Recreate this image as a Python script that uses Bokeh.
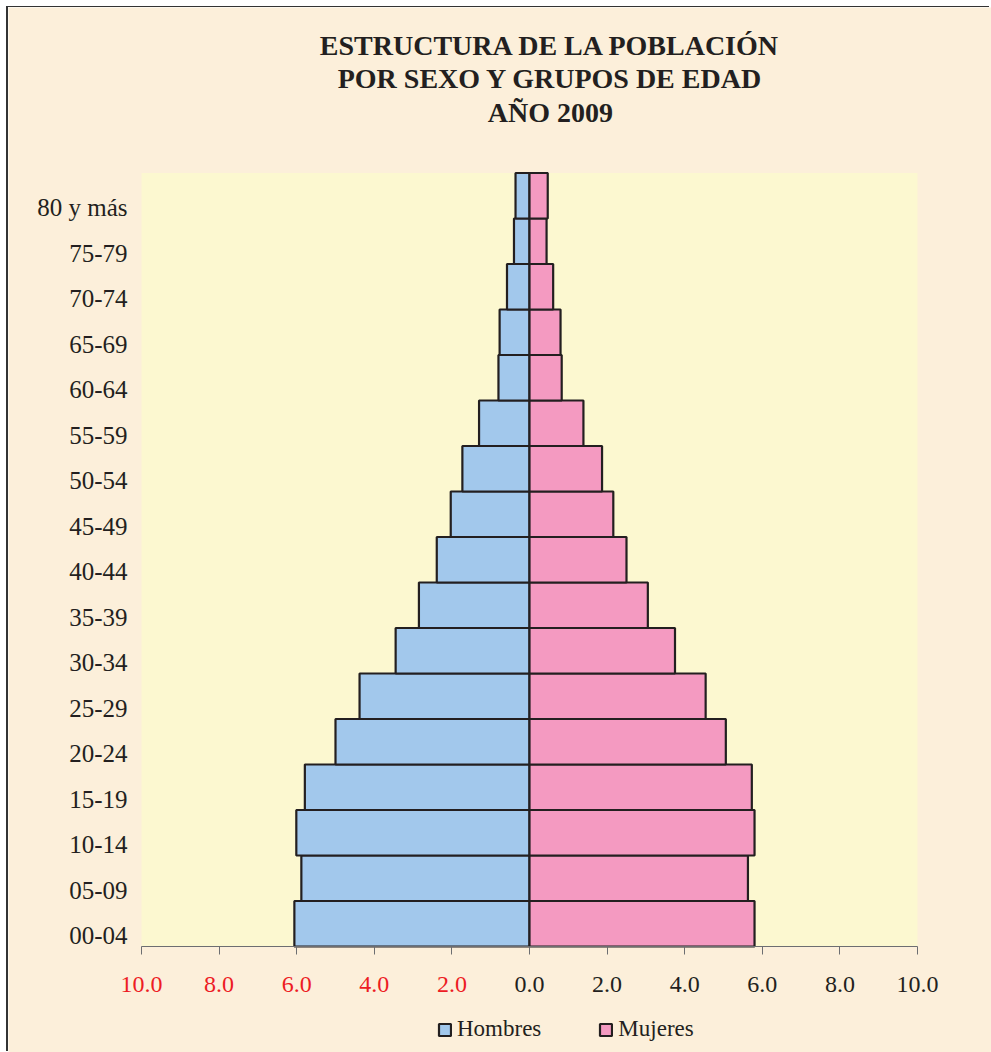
from bokeh.plotting import figure
from bokeh.models import (Range1d, FixedTicker, LinearAxis, ColumnDataSource,
                          Legend, LegendItem)
from bokeh.core.properties import value
from bokeh.embed import file_html
from bokeh.resources import INLINE

# ---- data ----
grupos = ["00-04", "05-09", "10-14", "15-19", "20-24", "25-29", "30-34", "35-39",
          "40-44", "45-49", "50-54", "55-59", "60-64", "65-69", "70-74", "75-79",
          "80 y más"]
hombres = [6.06, 5.88, 6.01, 5.79, 5.00, 4.38, 3.45, 2.85, 2.39, 2.03, 1.73, 1.30,
           0.80, 0.77, 0.58, 0.40, 0.36]
mujeres = [5.80, 5.63, 5.80, 5.73, 5.06, 4.54, 3.75, 3.05, 2.50, 2.16, 1.87, 1.39,
           0.83, 0.80, 0.61, 0.44, 0.47]
ticks_izq = [-10, -8, -6, -4, -2]
labels_izq = ["10.0", "8.0", "6.0", "4.0", "2.0"]
ticks_der = [0, 2, 4, 6, 8, 10]
labels_der = ["0.0", "2.0", "4.0", "6.0", "8.0", "10.0"]
titulo = ["ESTRUCTURA DE LA POBLACIÓN", "POR SEXO Y GRUPOS DE EDAD", "AÑO 2009"]

SERIF = "Liberation Serif"
BG = "#FCEFDA"
INK = "#231F20"

W, H = 983, 1045
PX_X, ZERO_X = 38.8, 521          # px per unit, canvas x of 0
PX_Y, ZERO_Y = 45.5, 939          # px per group, canvas y (from top) of bottom
xr = Range1d(-ZERO_X / PX_X, (W - ZERO_X) / PX_X)
yr = Range1d(-(H - ZERO_Y) / PX_Y, ZERO_Y / PX_Y)

p = figure(width=W, height=H, x_range=xr, y_range=yr, output_backend="svg",
           toolbar_location=None, x_axis_location=None, y_axis_location=None,
           min_border=0,
           styles={"margin-left": "8px", "margin-top": "7px",
                   "box-shadow": "-2px -1px 0px 0px #333333"})
p.background_fill_color = BG
p.border_fill_color = BG
p.outline_line_color = None
p.grid.visible = False

n = len(grupos)
ypos = [i + 0.5 for i in range(n)]

# plot-area background
p.quad(left=[ticks_izq[0]], right=[ticks_der[-1]], bottom=[0], top=[n],
       fill_color="#FCF8D0", line_color=None)

src = ColumnDataSource(dict(y=ypos, h=[-v for v in hombres], m=mujeres, z=[0] * n))
rh = p.hbar(y="y", left="h", right="z", height=1.0, source=src,
            fill_color="#A2C8EC", line_color=INK, line_width=2.2)
rm = p.hbar(y="y", left="z", right="m", height=1.0, source=src,
            fill_color="#F49AC1", line_color=INK, line_width=2.2)

# x axes (left half red, right half black), fixed at the bottom of the bars
def make_xaxis(ticks, labels, color, bounds):
    ax = LinearAxis(fixed_location=0, bounds=bounds,
                    ticker=FixedTicker(ticks=ticks),
                    major_label_overrides={t: l for t, l in zip(ticks, labels)})
    ax.major_label_text_font = SERIF
    ax.major_label_text_font_size = "24px"
    ax.major_label_text_color = color
    ax.major_label_standoff = 22
    ax.axis_line_color = "#6D6E71"
    ax.major_tick_line_color = "#6D6E71"
    ax.major_tick_out = 8
    ax.major_tick_in = 0
    ax.minor_tick_line_color = None
    p.add_layout(ax, "below")
    return ax

make_xaxis(ticks_izq, labels_izq, "#ED1C24", (ticks_izq[0], 0))
make_xaxis(ticks_der, labels_der, INK, (0, ticks_der[-1]))

# y axis with group labels (labels sit slightly below each band's centre)
ylab = [i + 0.24 for i in range(n)]
ya = LinearAxis(fixed_location=ticks_izq[0], ticker=FixedTicker(ticks=ylab),
                major_label_overrides={y: g for y, g in zip(ylab, grupos)})
ya.axis_line_color = None
ya.major_tick_line_color = None
ya.minor_tick_line_color = None
ya.major_label_text_font = SERIF
ya.major_label_text_font_size = "25px"
ya.major_label_text_color = INK
ya.major_label_standoff = 8
p.add_layout(ya, "left")

# title
tsrc = ColumnDataSource(dict(x=[0.54] * 3, y=[19.80, 19.08, 18.33], t=titulo))
p.text(x="x", y="y", text="t", source=tsrc, text_align="center",
       text_baseline="middle", text_font=value(SERIF), text_font_style="bold",
       text_font_size="28px", text_color=INK)

legend = Legend(items=[LegendItem(label="Hombres", renderers=[rh]),
                       LegendItem(label="Mujeres", renderers=[rm])],
                orientation="horizontal", location=(429, 10),
                background_fill_alpha=0, border_line_color=None,
                label_text_font=SERIF, label_text_font_size="23px",
                label_text_color=INK, glyph_width=15, glyph_height=15,
                label_height=24, spacing=57, padding=0, margin=0,
                label_standoff=5)
p.add_layout(legend, "center")

open("out.html", "w").write(file_html(p, INLINE))
